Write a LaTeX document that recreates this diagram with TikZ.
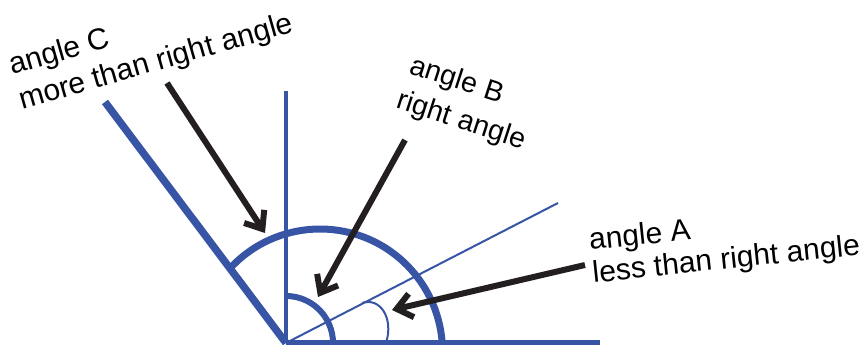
\documentclass[tikz,border=0pt]{standalone}
\usepackage{fontspec}
\setmainfont{Liberation Sans}
\usetikzlibrary{arrows.meta}
\definecolor{lineblue}{RGB}{55,84,165}
\definecolor{arrowblack}{RGB}{35,31,32}
\newcommand{\twolines}[2]{\begin{tabular}[t]{@{}l@{}}#1\\#2\end{tabular}}
\tikzset{
  label/.style={inner sep=0pt, anchor=base west, text=black},
  pointer/.style={draw=arrowblack, line width=6pt, line cap=butt,
    -{Straight Barb[length=15pt, width=24pt, line width=6pt, line join=miter]}},
  thickblue/.style={draw=lineblue, line cap=butt},
}
\begin{document}
\begin{tikzpicture}[x=1pt,y=1pt]
\useasboundingbox (0,0) rectangle (868,345);
% points
\coordinate (O) at (286,2);
\coordinate (E) at (600,2);
\coordinate (V) at (286,254);
\coordinate (Ct) at (105,243);
\coordinate (T) at (558,142);
\coordinate (Ac) at (320,-6.5);
% lines
\draw[thickblue, line width=7.5pt] (Ct) -- (O);
\draw[thickblue, line width=6pt] (O) -- (E);
\draw[thickblue, line width=4.5pt] (O) -- (V);
\draw[thickblue, line width=2pt] (O) -- (T);
% big arc (angle C)
\draw[thickblue, line width=7pt] (Ac) ++(137.3:122.5) arc[start angle=137.3, end angle=4, radius=122.5];
% arc B (right angle)
\draw[thickblue, line width=6pt] (O) ++(90:47) arc[start angle=90, end angle=0, radius=47];
% arc A
\coordinate (Aa) at (362,42);
\coordinate (Ab) at (386,2);
\draw[thickblue, line width=2pt] (Aa) .. controls (380,48) and (394,27) .. (Ab);
% texts
\node[label, rotate=16, font=\fontsize{30}{36}\selectfont] (c) at (12,270)
  {\twolines{angle C}{more than right angle}};
\node[label, rotate=-18, font=\fontsize{28.5}{37}\selectfont] (b) at (408,272)
  {\twolines{angle B}{\hspace*{-1pt}right angle}};
\node[label, rotate=6, font=\fontsize{30}{33}\selectfont] (a) at (590,95)
  {\twolines{angle A}{less than right angle}};
% arrows
\coordinate (cs) at (167,262);
\coordinate (ct) at (265,112);
\coordinate (bs) at (405,205);
\coordinate (bt) at (318,48);
\coordinate (as) at (585,80);
\coordinate (at) at (392,35);
\draw[pointer] (cs) -- (ct);
\draw[pointer] (bs) -- (bt);
\draw[pointer] (as) -- (at);
\end{tikzpicture}
\end{document}
